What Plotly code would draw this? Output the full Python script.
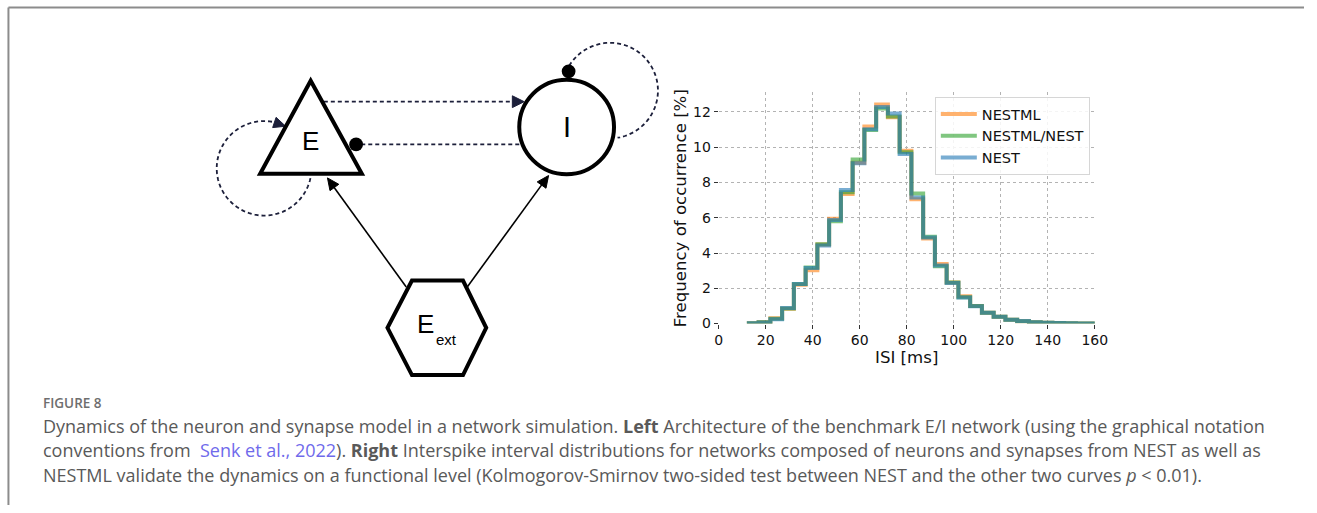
import plotly.graph_objects as go
import math

W, H = 1317, 513

# ---------------- data ----------------
bin_edges = [12 + 5 * k for k in range(31)]  # 12 ... 162
series_names = ["NESTML", "NESTML/NEST", "NEST"]
nestml = [0.02, 0.08, 0.30, 0.84, 2.20, 3.03, 4.48, 5.95, 7.35, 9.12, 11.18, 12.42, 11.70, 9.80, 7.05,
          4.82, 3.38, 2.33, 1.55, 1.00, 0.62, 0.39, 0.22, 0.13, 0.07, 0.05, 0.03, 0.02, 0.01, 0.01]
nestml_nest = [0.02, 0.08, 0.27, 0.86, 2.25, 3.18, 4.50, 5.80, 7.45, 9.30, 10.98, 12.20, 11.75, 9.72, 7.38,
               4.92, 3.25, 2.33, 1.50, 0.99, 0.61, 0.38, 0.21, 0.13, 0.07, 0.05, 0.03, 0.02, 0.01, 0.01]
nest = [0.02, 0.06, 0.24, 0.88, 2.24, 3.15, 4.43, 5.88, 7.58, 9.10, 11.02, 12.28, 11.92, 9.62, 7.15,
        4.88, 3.30, 2.30, 1.48, 0.98, 0.62, 0.38, 0.22, 0.14, 0.08, 0.05, 0.03, 0.02, 0.01, 0.01]
series_values = [nestml, nestml_nest, nest]
series_colors = ["rgba(255,127,14,0.6)", "rgba(44,160,44,0.6)", "rgba(31,119,180,0.6)"]
x_ticks = [0, 20, 40, 60, 80, 100, 120, 140, 160]
y_ticks = [0, 2, 4, 6, 8, 10, 12]

fig = go.Figure()
for name, vals, col in zip(series_names, series_values, series_colors):
    fig.add_trace(go.Scatter(
        x=bin_edges, y=vals + [vals[-1]], mode="lines", line_shape="hv",
        line=dict(color=col, width=4), name=name, hoverinfo="skip"))


# ---------------- helpers (pixel -> paper) ----------------
def px(x):
    return x / W


def py(y):
    return 1 - y / H


def path(points, close=False):
    s = "M " + " L ".join(f"{px(x):.5f},{py(y):.5f}" for x, y in points)
    return s + (" Z" if close else "")


def arc_points(cx, cy, r, a0, a1, n=80):
    return [(cx + r * math.cos(math.radians(a0 + (a1 - a0) * i / n)),
             cy + r * math.sin(math.radians(a0 + (a1 - a0) * i / n))) for i in range(n + 1)]


def arrowhead(tip, frm, length=11, half=5.5):
    dx, dy = tip[0] - frm[0], tip[1] - frm[1]
    n = math.hypot(dx, dy)
    ux, uy = dx / n, dy / n
    bx, by = tip[0] - ux * length, tip[1] - uy * length
    return path([tip, (bx - uy * half, by + ux * half), (bx + uy * half, by - ux * half)], close=True)


shapes = []
DASH = "4px,3px"
NAVY = "#1c1f3a"

# frame
shapes.append(dict(type="line", xref="paper", yref="paper", x0=px(4.5), y0=py(7.5), x1=1, y1=py(7.5),
                   line=dict(color="#8c8c8c", width=2)))
shapes.append(dict(type="line", xref="paper", yref="paper", x0=px(4.5), y0=py(7.5), x1=px(4.5), y1=0,
                   line=dict(color="#8c8c8c", width=2)))

# E self loop (dashed circular arc ending in arrow)
e_loop = arc_points(263.5, 171, 48, 12, 287)
shapes.append(dict(type="path", xref="paper", yref="paper", path=path(e_loop),
                   line=dict(color=NAVY, width=1.8, dash=DASH)))
tipE = (263.5 + 48 * math.cos(math.radians(297)), 171 + 48 * math.sin(math.radians(297)))
shapes.append(dict(type="path", xref="paper", yref="paper", path=arrowhead(tipE, e_loop[-3], 12, 5.5),
                   fillcolor=NAVY, line=dict(color=NAVY, width=1)))

# I self loop (dashed circular arc)
i_loop = arc_points(614, 92, 48.5, 203, 441)
shapes.append(dict(type="path", xref="paper", yref="paper", path=path(i_loop),
                   line=dict(color=NAVY, width=1.8, dash=DASH)))

# E -> I dashed arrow
shapes.append(dict(type="line", xref="paper", yref="paper", x0=px(324), y0=py(103.3), x1=px(518), y1=py(103.3),
                   line=dict(color=NAVY, width=1.8, dash=DASH)))
shapes.append(dict(type="path", xref="paper", yref="paper", path=arrowhead((527, 103.3), (324, 103.3), 12, 6),
                   fillcolor=NAVY, line=dict(color=NAVY, width=1)))

# I -> E dashed inhibitory
shapes.append(dict(type="line", xref="paper", yref="paper", x0=px(522), y0=py(146.7), x1=px(362), y1=py(146.7),
                   line=dict(color=NAVY, width=1.8, dash=DASH)))

# solid Ext arrows
shapes.append(dict(type="line", xref="paper", yref="paper", x0=px(407.5), y0=py(291.5), x1=px(333), y1=py(188.5),
                   line=dict(color="black", width=1.6)))
shapes.append(dict(type="path", xref="paper", yref="paper", path=arrowhead((327.7, 180.7), (407.5, 291.5), 12, 5.5),
                   fillcolor="black", line=dict(color="black", width=1)))
shapes.append(dict(type="line", xref="paper", yref="paper", x0=px(469.3), y0=py(291.5), x1=px(546), y1=py(186),
                   line=dict(color="black", width=1.6)))
shapes.append(dict(type="path", xref="paper", yref="paper", path=arrowhead((551.7, 178.3), (469.3, 291.5), 12, 5.5),
                   fillcolor="black", line=dict(color="black", width=1)))

# nodes
shapes.append(dict(type="path", xref="paper", yref="paper",
                   path=path([(310.7, 82), (259.5, 176.5), (362.5, 176.5)], close=True),
                   fillcolor="white", line=dict(color="black", width=4)))
shapes.append(dict(type="circle", xref="paper", yref="paper", x0=px(522), x1=px(618), y0=py(81), y1=py(177),
                   fillcolor="white", line=dict(color="black", width=4)))
shapes.append(dict(type="path", xref="paper", yref="paper",
                   path=path([(413.3, 285), (465, 285), (488.5, 333), (465, 381), (413.3, 381), (388.5, 333)],
                             close=True),
                   fillcolor="white", line=dict(color="black", width=4)))

# inhibitory dots
for cx, cy in [(356.7, 146.7), (572, 72.5)]:
    shapes.append(dict(type="circle", xref="paper", yref="paper", x0=px(cx - 7), x1=px(cx + 7),
                       y0=py(cy + 7), y1=py(cy - 7), fillcolor="black", line=dict(color="black", width=0)))

annotations = []


def txt(text, x, y, size, color="black", family="Liberation Sans, Arial", xanchor="center",
        yanchor="middle", angle=0, weight=None):
    f = dict(size=size, color=color, family=family)
    if weight:
        f["weight"] = weight
    annotations.append(dict(text=text, x=px(x), y=py(y), xref="paper", yref="paper", showarrow=False,
                            xanchor=xanchor, yanchor=yanchor, font=f, textangle=angle))


txt("E", 310.7, 143, 26)
txt("I", 570.7, 129.5, 29)
txt("E", 426.7, 329.5, 26)
txt("ext", 448.3, 345, 15)

# axis titles
txt("Frequency of occurrence [%]", 685, 211.5, 16.6, color="#111", family="DejaVu Sans", angle=-90)
txt("ISI [ms]", 914.5, 363, 16.6, color="#111", family="DejaVu Sans")

# caption
CAP = "Open Sans, Noto Sans, sans-serif"
GRAY = "#595959"
txt("FIGURE 8", 37, 409, 13.5, color="#6e6e6e", family=CAP, xanchor="left", weight=600)
txt("Dynamics of the neuron and synapse model in a network simulation. <b>Left</b> Architecture of the "
    "benchmark E/I network (using the graphical notation", 37, 432.5, 18, color=GRAY, family=CAP, xanchor="left")
txt("conventions from  <span style='color:#6f6aeb'>Senk et al., 2022</span>). <b>Right</b> Interspike interval "
    "distributions for networks composed of neurons and synapses from NEST as well as", 37, 457.5, 18,
    color=GRAY, family=CAP, xanchor="left")
txt("NESTML validate the dynamics on a functional level (Kolmogorov-Smirnov two-sided test between NEST "
    "and the other two curves <i>p</i> &lt; 0.01).", 37, 482.5, 18, color=GRAY, family=CAP, xanchor="left")

axis_font = dict(family="DejaVu Sans", size=14, color="#111")
fig.update_layout(
    width=W, height=H, margin=dict(l=0, r=0, t=0, b=0),
    paper_bgcolor="white", plot_bgcolor="white",
    shapes=shapes, annotations=annotations,
    xaxis=dict(domain=[px(724), px(1105)], range=[0, 160], tickvals=x_ticks,
               ticktext=[str(v) for v in x_ticks], showgrid=True, gridcolor="#b3b3b3", griddash="dot",
               gridwidth=0.8, zeroline=False, showline=False, ticks="outside", ticklen=4, tickwidth=1,
               tickcolor="#333", tickfont=axis_font, fixedrange=True),
    yaxis=dict(domain=[py(328.7), py(93)], range=[0, 13.16], tickvals=y_ticks,
               ticktext=[str(v) for v in y_ticks], showgrid=True, gridcolor="#b3b3b3", griddash="dot",
               gridwidth=0.8, zeroline=False, showline=False, ticks="outside", ticklen=4, tickwidth=1,
               tickcolor="#333", tickfont=axis_font, fixedrange=True),
    legend=dict(x=px(943), y=py(98.5), xanchor="left", yanchor="top",
                bgcolor="rgba(255,255,255,0.85)", bordercolor="#d6d6d6", borderwidth=1,
                font=dict(family="DejaVu Sans", size=14.5, color="#111"), itemwidth=36),
    showlegend=True,
)

fig.write_html("out.html", config={"displayModeBar": False})
